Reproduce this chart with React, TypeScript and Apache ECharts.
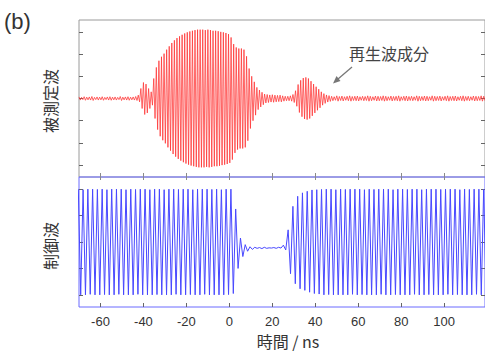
import React, { useEffect, useRef } from "react";
import * as echarts from "echarts";

// ---- axis ranges / ticks ----
const X_MIN = -70;
const X_MAX = 119;
const xTickValues = [-60, -40, -20, 0, 20, 40, 60, 80, 100];
const topYTickValues = [-3, -2, -1, 0, 1, 2, 3];
const bottomYTickValues = [-2, -1, 0, 1, 2];
const TOP_Y_LIMIT = 3.535;
const BOTTOM_Y_LIMIT = 2.46;

const redStart = -70; // ns
const redPeriod = 1.2; // ns per cycle
const redAmplitude = [
  0.07, 0.05, 0.08, 0.06, 0.07, 0.09, 0.05, 0.07, 0.06, 0.08, 0.05, 0.07, 0.08, 0.06, 0.07, 0.05, 0.09, 0.06, 0.07, 0.08, 0.06, 0.07, 0.09,
  0.15, 0.45, 0.72, 0.65, 0.45, 0.3,
  0.9, 1.4, 1.7, 1.88, 2.02, 2.2, 2.35, 2.5, 2.62, 2.72, 2.8, 2.87, 2.93, 2.98, 3.02, 3.05, 3.08, 3.1, 3.1, 3.1, 3.08, 3.1, 3.08, 3.05, 3.05, 3.03, 3.0, 2.98, 2.95, 2.9,
  2.75, 2.45, 2.3, 2.25, 2.25, 2.2, 1.9, 1.35, 1.0, 0.75, 0.5, 0.38, 0.28, 0.2,
  0.18, 0.16, 0.17, 0.15, 0.14, 0.15, 0.12, 0.1, 0.1, 0.12, 0.18, 0.35,
  0.63, 0.82, 0.92, 0.95, 0.9, 0.78, 0.65, 0.53, 0.42, 0.3, 0.22, 0.16, 0.13,
  0.1, 0.08, 0.12, 0.09, 0.11, 0.08, 0.1, 0.12, 0.09, 0.1,
  0.11, 0.08, 0.1, 0.09, 0.12, 0.1, 0.08, 0.11, 0.1, 0.09,
  0.12, 0.1, 0.08, 0.11, 0.09, 0.1, 0.12, 0.08, 0.1, 0.11,
  0.09, 0.1, 0.08, 0.12, 0.1, 0.09, 0.11, 0.1, 0.08, 0.12,
  0.1, 0.09, 0.11, 0.08, 0.1, 0.12, 0.09, 0.1, 0.11, 0.08,
  0.1, 0.12, 0.09, 0.1, 0.08, 0.11, 0.1, 0.09, 0.12, 0.1,
];

// ---- control wave (blue): signed value of each half-cycle extreme ----
const blueStart = -70.32; // ns
const blueHalfPeriod = 1.11; // ns
const blueExtremes = [
  2, -2, 1.98, -2, 2, -1.98, 2, -2, 1.99, -2,
  2, -1.99, 1.98, -2, 2, -2, 2, -1.98, 2, -2,
  1.98, -2, 2, -2, 1.99, -1.98, 2, -2, 2, -2,
  1.98, -2, 2, -1.99, 2, -2, 1.98, -2, 2, -2,
  2, -1.98, 1.99, -2, 2, -2, 2, -1.99, 1.98, -2,
  2, -2, 2, -1.98, 2, -2, 1.99, -2, 2, -2,
  1.98, -2, 2, -1.99, 2,
  -1.95, 1.25, -1.0, 0.15, -0.55, -0.1, -0.35, -0.18, -0.28,
  -0.2, -0.24, -0.21, -0.25, -0.2, -0.24, -0.22, -0.23,
  -0.21, -0.24, -0.2, -0.23,
  -0.12, -0.3, 0.46, -1.2, 1.35, -1.58, 1.73, -1.77, 1.86, -1.83, 1.92, -1.9, 1.97, -1.95, 1.98, -1.97, 1.99,
  -2, 2, -1.99, 2, -2, 1.98, -2, 2, -2, 1.99,
  -2, 2, -1.98, 2, -2, 2, -1.99, 1.98, -2, 2,
  -2, 1.99, -2, 2, -1.98, 2, -2, 2, -2, 1.98,
  -1.99, 2, -2, 2, -2, 1.99, -2, 2, -1.98, 2,
  -2, 1.98, -2, 2, -1.99, 2, -2, 2, -2, 1.99,
  -2, 2, -1.98, 2, -2, 2, -1.99, 1.98, -2, 2,
  -2, 1.99, -2, 2, -1.98, 2, -2, 2, -2,
];

// ---- texts ----
const panelLabel = "(b)";
const topName = "被測定波";
const bottomName = "制御波";
const xName = "時間 / ns";
const annotation = "再生波成分";

const LATIN = "'Liberation Sans', Arial, Helvetica, sans-serif";
const CJK = "'Noto Sans CJK JP', 'Noto Sans', sans-serif";

function buildRed(): number[][] {
  const out: number[][] = [];
  redAmplitude.forEach((a, i) => {
    const t = redStart + i * redPeriod;
    out.push([t, a]);
    out.push([t + redPeriod / 2, -a]);
  });
  return out;
}

function buildBlue(): number[][] {
  return blueExtremes.map((v, j) => [blueStart + j * blueHalfPeriod, v]);
}

export default function App() {
  const ref = useRef<HTMLDivElement>(null);

  useEffect(() => {
    if (!ref.current) return;
    const chart = echarts.init(ref.current, undefined, { renderer: "svg" });
    const tickGray = "#8a8a8a";
    const blueFrame = "#6b6bff";

    const xBase = {
      type: "value" as const,
      min: X_MIN,
      max: X_MAX,
      axisLine: { show: false, onZero: false },
      splitLine: { show: false },
    };

    const yBase = (gridIndex: number, lim: number, ticks: number[], position: string, color: string) => ({
      type: "value" as const,
      gridIndex,
      min: -lim,
      max: lim,
      position,
      axisLine: { show: false, onZero: false },
      splitLine: { show: false },
      axisLabel: { show: false },
      axisTick: { show: true, inside: true, length: 4, customValues: ticks, lineStyle: { color, width: 1 } },
    });

    chart.setOption({
      animation: false,
      backgroundColor: "#ffffff",
      grid: [
        { left: 79, top: 20, width: 406, height: 157, show: true, borderColor: "#9a9a9a", borderWidth: 1, backgroundColor: "transparent" },
        { left: 79, top: 177, width: 406, height: 130, show: true, borderColor: blueFrame, borderWidth: 1, backgroundColor: "transparent" },
      ],
      xAxis: [
        {
          ...xBase,
          gridIndex: 0,
          position: "bottom",
          axisLabel: { show: false },
          axisTick: { show: true, inside: true, length: 4, customValues: xTickValues, lineStyle: { color: tickGray } },
        },
        {
          ...xBase,
          gridIndex: 1,
          position: "bottom",
          axisLabel: {
            show: true,
            customValues: xTickValues,
            fontSize: 13,
            color: "#333",
            margin: 8,
            fontFamily: LATIN,
          },
          axisTick: { show: true, inside: true, length: 4, customValues: xTickValues, lineStyle: { color: "#666" } },
        },
        {
          ...xBase,
          gridIndex: 1,
          position: "top",
          axisLabel: { show: false },
          axisTick: { show: true, inside: true, length: 3, customValues: xTickValues, lineStyle: { color: tickGray } },
        },
      ],
      yAxis: [
        yBase(0, TOP_Y_LIMIT, topYTickValues, "left", "#666"),
        yBase(0, TOP_Y_LIMIT, topYTickValues, "right", "#666"),
        yBase(1, BOTTOM_Y_LIMIT, bottomYTickValues, "left", "#666"),
        yBase(1, BOTTOM_Y_LIMIT, bottomYTickValues, "right", "#666"),
      ],
      series: [
        {
          type: "line",
          xAxisIndex: 0,
          yAxisIndex: 0,
          data: buildRed(),
          symbol: "none",
          clip: true,
          lineStyle: { color: "#ff3535", width: 0.9, opacity: 0.85 },
        },
        {
          type: "line",
          xAxisIndex: 1,
          yAxisIndex: 2,
          data: buildBlue(),
          symbol: "none",
          clip: true,
          lineStyle: { color: "#4848ff", width: 1 },
        },
      ],
      graphic: [
        {
          type: "text",
          left: 4,
          top: 10,
          style: { text: panelLabel, fontSize: 22, fill: "#333", fontFamily: LATIN },
        },
        {
          type: "text",
          x: 50,
          y: 101,
          rotation: Math.PI / 2,
          style: { text: topName, fontSize: 16, fill: "#333", fontFamily: CJK, align: "center", verticalAlign: "middle" },
        },
        {
          type: "text",
          x: 50,
          y: 246,
          rotation: Math.PI / 2,
          style: { text: bottomName, fontSize: 16, fill: "#333", fontFamily: CJK, align: "center", verticalAlign: "middle" },
        },
        {
          type: "text",
          x: 288,
          y: 341,
          style: { text: xName, fontSize: 16, fill: "#333", fontFamily: CJK, align: "center", verticalAlign: "middle" },
        },
        {
          type: "text",
          x: 389,
          y: 53,
          style: { text: annotation, fontSize: 16, fill: "#444", fontFamily: CJK, align: "center", verticalAlign: "middle" },
        },
        {
          type: "line",
          shape: { x1: 352, y1: 67, x2: 338, y2: 79 },
          style: { stroke: "#777", lineWidth: 1.3 },
        },
        {
          type: "polygon",
          shape: { points: [[333, 83.5], [340.5, 81], [336.5, 76]] },
          style: { fill: "#777" },
        },
      ],
    });

    return () => chart.dispose();
  }, []);

  return <div ref={ref} style={{ position: "absolute", left: 0, top: 0, width: 485, height: 352 }} />;
}
